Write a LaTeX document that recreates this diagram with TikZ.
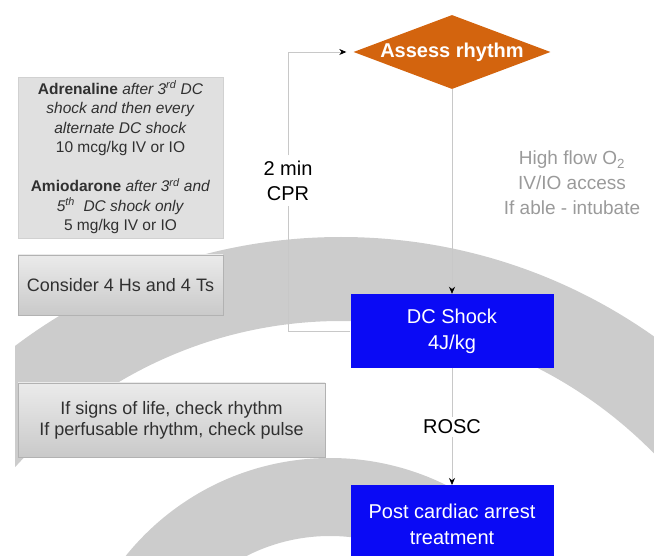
\documentclass[tikz,border=0pt]{standalone}
\usepackage{fontspec}
\setmainfont{Liberation Sans}
\usetikzlibrary{shapes.geometric,arrows.meta}
\definecolor{bandgray}{HTML}{CCCCCC}
\definecolor{shockblue}{HTML}{0A0AF5}
\definecolor{rhythmorange}{HTML}{D3640E}
\definecolor{flowgray}{HTML}{C8C8C8}
\definecolor{notegray}{HTML}{9A9A9A}
\definecolor{inkgray}{HTML}{303030}

\begin{document}
\begin{tikzpicture}[x=1pt, y=-1pt, >={Stealth[black,length=7pt,width=6pt]},
    flow/.style={draw=flowgray, line width=0.7pt},
    bluebox/.style={fill=shockblue, text=white, minimum width=203pt, align=center, font=\fontsize{20}{26}\selectfont},
    greybox/.style={draw=black!30, top color=black!8, bottom color=black!21, align=center, text=inkgray}]
    \useasboundingbox (0,0) rectangle (654,556);
    \clip (0,0) rectangle (654,556);

    % grey bands behind the chart
    \begin{scope}
        \clip (15,0) rectangle (654,556);
        \fill[bandgray, even odd rule] (341,779) circle[radius=542pt] (341,779) ellipse[x radius=445pt, y radius=458pt];
        \fill[bandgray, even odd rule] (330,720) circle[radius=262pt] (330,720) circle[radius=184pt];
    \end{scope}

    \node[diamond, fill=rhythmorange, text=white, font=\bfseries\fontsize{20}{24}\selectfont,
        minimum width=197pt, minimum height=74pt, inner sep=0pt, aspect=2.66] (assess) at (452,52) {Assess rhythm};
    \node[bluebox, minimum height=74pt] (shock) at (452,331) {DC Shock\\4J/kg};
    \node[bluebox, minimum height=78pt, anchor=north] (post) at (452,485) {Post cardiac arrest\\treatment};

    \node[font=\fontsize{20}{25}\selectfont, align=center, inner sep=5pt] (cpr) at (288,180.5) {2 min\\CPR};
    \node[font=\fontsize{20}{24}\selectfont, inner sep=3pt] (rosc) at (452,427) {ROSC};
    \node[font=\fontsize{19}{25}\selectfont, align=center, text=notegray] (access) at (572,183)
        {High flow O\textsubscript{2}\\IV/IO access\\If able - intubate};

    \node[draw=black!18, fill=black!12, minimum width=205pt, minimum height=161pt, align=center,
        text=inkgray, font=\fontsize{15.5}{19.5}\selectfont] (drugs) at (120.5,157.5)
        {\textbf{Adrenaline} \textit{after 3\textsuperscript{rd} DC}\\
         \textit{shock and then every}\\
         \textit{alternate DC shock}\\
         10 mcg/kg IV or IO\\[19.5pt]
         \textbf{Amiodarone} \textit{after 3\textsuperscript{rd} and}\\
         \textit{5\textsuperscript{th}\ \ DC shock only}\\
         5 mg/kg IV or IO};
    \node[greybox, minimum width=205pt, minimum height=60pt, font=\fontsize{18}{22}\selectfont] (hs) at (120.5,285)
        {Consider 4 Hs and 4 Ts};
    \node[greybox, minimum width=307pt, minimum height=74pt, font=\fontsize{18}{21}\selectfont] (life) at (171.5,420)
        {If signs of life, check rhythm\\If perfusable rhythm, check pulse};

    \draw[flow, ->] (assess.south) -- (shock.north);
    \draw[flow] (shock.south) -- (rosc.north);
    \draw[flow, ->] (rosc.south) -- (post.north);
    \draw[flow] (shock.west) -| (cpr.south);
    \draw[flow, ->, shorten >=7pt] (cpr.north) |- (assess.west);
\end{tikzpicture}
\end{document}
